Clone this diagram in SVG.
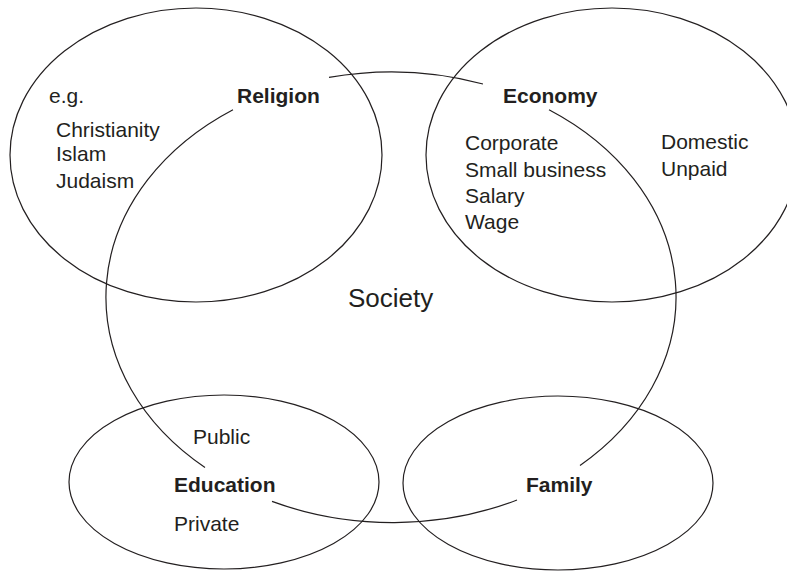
<svg xmlns="http://www.w3.org/2000/svg" width="787" height="571" viewBox="0 0 787 571">
<style>
.ring{fill:none;stroke:#231f20;stroke-width:1.2}
.t{font-family:"Liberation Sans",Arial,sans-serif;font-size:21px;fill:#231f20}
.b{font-weight:bold}
</style>
<rect width="787" height="571" fill="#ffffff"/>
<g id="connectors">
<path class="ring" d="M 329 77.4 A 285 225 0 0 1 483 84"/>
<path class="ring" d="M 549 109.7 A 285 225 0 0 1 580 465.4"/>
<path class="ring" d="M 517 500 A 285 225 0 0 1 272 501.4"/>
<path class="ring" d="M 205 467.5 A 285 225 0 0 1 233 109.7"/>
</g>
<g id="society">
<text class="t" x="348" y="307" style="font-size:26px">Society</text>
</g>
<g id="religion">
<ellipse class="ring" cx="196" cy="155" rx="186" ry="147"/>
<text class="t" x="49" y="103">e.g.</text>
<text class="t b" x="237" y="103">Religion</text>
<text class="t" x="56" y="137">Christianity</text>
<text class="t" x="56" y="161">Islam</text>
<text class="t" x="56" y="188">Judaism</text>
</g>
<g id="economy">
<ellipse class="ring" cx="612" cy="155" rx="186" ry="147"/>
<text class="t b" x="503" y="103">Economy</text>
<text class="t" x="465" y="150">Corporate</text>
<text class="t" x="465" y="177">Small business</text>
<text class="t" x="465" y="203">Salary</text>
<text class="t" x="465" y="229">Wage</text>
<text class="t" x="661" y="149">Domestic</text>
<text class="t" x="661" y="176">Unpaid</text>
</g>
<g id="education">
<ellipse class="ring" cx="224" cy="482" rx="155" ry="87"/>
<text class="t" x="193" y="444">Public</text>
<text class="t b" x="174" y="492">Education</text>
<text class="t" x="174" y="531">Private</text>
</g>
<g id="family">
<ellipse class="ring" cx="558" cy="483" rx="155" ry="87"/>
<text class="t b" x="526" y="492">Family</text>
</g>
</svg>
